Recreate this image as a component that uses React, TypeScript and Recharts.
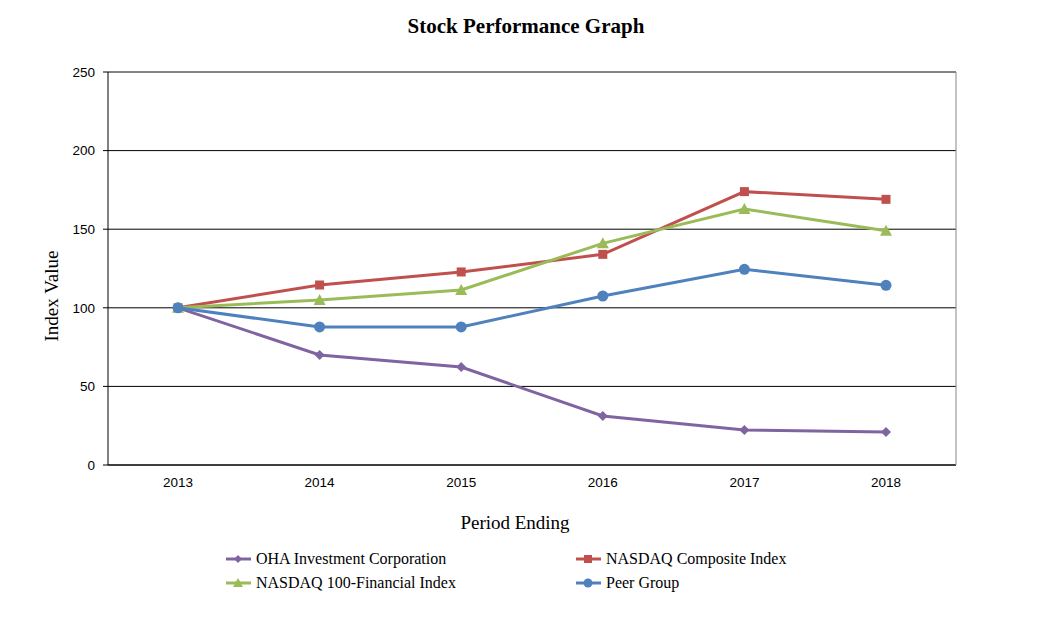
import React from 'react';
import {
  LineChart,
  Line,
  XAxis,
  YAxis,
  CartesianGrid,
  ReferenceLine,
  Label,
} from 'recharts';

const years = ['2013', '2014', '2015', '2016', '2017', '2018'];
const oha = [100, 70, 62.3, 31.2, 22.3, 21];
const nasdaqComposite = [100, 114.5, 122.8, 134, 173.9, 169];
const nasdaqFinancial = [100, 105, 111.3, 141, 162.8, 149];
const peerGroup = [100, 87.8, 87.8, 107.5, 124.5, 114.3];
const yTicks = [0, 50, 100, 150, 200, 250];

const data = years.map((year, i) => ({
  year,
  oha: oha[i],
  composite: nasdaqComposite[i],
  financial: nasdaqFinancial[i],
  peer: peerGroup[i],
}));

const PURPLE = '#8064A2';
const RED = '#C0504D';
const GREEN = '#9BBB59';
const BLUE = '#4F81BD';

type DotProps = { cx?: number; cy?: number; index?: number };

const Diamond = ({ cx = 0, cy = 0, index }: DotProps) => (
  <path key={`d-${index}`} d={`M${cx},${cy - 5}L${cx + 5},${cy}L${cx},${cy + 5}L${cx - 5},${cy}Z`} fill={PURPLE} />
);
const Square = ({ cx = 0, cy = 0, index }: DotProps) => (
  <rect key={`s-${index}`} x={cx - 4.5} y={cy - 4.5} width={9} height={9} fill={RED} />
);
const Triangle = ({ cx = 0, cy = 0, index }: DotProps) => (
  <path key={`t-${index}`} d={`M${cx},${cy - 6}L${cx + 6},${cy + 5}L${cx - 6},${cy + 5}Z`} fill={GREEN} />
);
const Circle = ({ cx = 0, cy = 0, index }: DotProps) => (
  <circle key={`c-${index}`} cx={cx} cy={cy} r={5.5} fill={BLUE} />
);

const legendItems = [
  { name: 'OHA Investment Corporation', color: PURPLE, shape: 'diamond', x: 226, y: 559 },
  { name: 'NASDAQ Composite Index', color: RED, shape: 'square', x: 576, y: 559 },
  { name: 'NASDAQ 100-Financial Index', color: GREEN, shape: 'triangle', x: 226, y: 583 },
  { name: 'Peer Group', color: BLUE, shape: 'circle', x: 576, y: 583 },
];

function LegendIcon({ color, shape }: { color: string; shape: string }) {
  let marker: React.ReactNode = null;
  if (shape === 'diamond') marker = <path d="M12,3L16,7L12,11L8,7Z" fill={color} />;
  if (shape === 'square') marker = <rect x={8} y={3} width={8} height={8} fill={color} />;
  if (shape === 'triangle') marker = <path d="M12,2L17,11L7,11Z" fill={color} />;
  if (shape === 'circle') marker = <circle cx={12} cy={7} r={4.5} fill={color} />;
  return (
    <svg width={25} height={14} style={{ display: 'block' }}>
      <line x1={0} y1={7} x2={25} y2={7} stroke={color} strokeWidth={3} />
      {marker}
    </svg>
  );
}

const serif = '"Liberation Serif", "Times New Roman", serif';
const sans = '"Liberation Sans", Arial, sans-serif';

export default function App() {
  return (
    <div style={{ position: 'absolute', left: 0, top: 0, width: 1040, height: 637, background: '#fff' }}>
      <div
        style={{
          position: 'absolute',
          left: 0,
          width: 1052,
          top: 14,
          textAlign: 'center',
          fontFamily: serif,
          fontWeight: 'bold',
          fontSize: 21,
        }}
      >
        Stock Performance Graph
      </div>
      <LineChart width={1040} height={637} data={data} margin={{ top: 72, right: 83, bottom: 142, left: 48 }}>
        <CartesianGrid vertical={false} stroke="#000" strokeWidth={1} />
        <ReferenceLine y={250} stroke="#888" strokeWidth={1} />
        <XAxis
          dataKey="year"
          padding={{ left: 70, right: 70 }}
          stroke="#000"
          tickLine={false}
          tickSize={5}
          tickMargin={7}
          tick={{ fill: '#000', fontFamily: sans, fontSize: 13.5 }}
          height={30}
        >
          <Label
            content={() => (
              <text x={515} y={529} textAnchor="middle" fontFamily={serif} fontSize={19} fill="#000">
                Period Ending
              </text>
            )}
          />
        </XAxis>
        <YAxis
          domain={[0, 250]}
          ticks={yTicks}
          stroke="#000"
          tickLine={{ stroke: '#000' }}
          tickSize={5}
          tickMargin={8}
          tick={{ fill: '#000', fontFamily: sans, fontSize: 13.5 }}
          width={60}
          interval={0}
        >
          <Label
            content={() => (
              <text
                x={58}
                y={296}
                transform="rotate(-90 58 296)"
                textAnchor="middle"
                fontFamily={serif}
                fontSize={19}
                fill="#000"
              >
                Index Value
              </text>
            )}
          />
        </YAxis>
        <YAxis
          yAxisId="right"
          orientation="right"
          width={1}
          tick={false}
          tickLine={false}
          axisLine={{ stroke: '#888', strokeWidth: 1 }}
          domain={[0, 250]}
        />
        <Line dataKey="oha" stroke={PURPLE} strokeWidth={3} dot={Diamond} activeDot={false} isAnimationActive={false} />
        <Line dataKey="composite" stroke={RED} strokeWidth={3} dot={Square} activeDot={false} isAnimationActive={false} />
        <Line dataKey="financial" stroke={GREEN} strokeWidth={3} dot={Triangle} activeDot={false} isAnimationActive={false} />
        <Line dataKey="peer" stroke={BLUE} strokeWidth={3} dot={Circle} activeDot={false} isAnimationActive={false} />
      </LineChart>
      {legendItems.map((item) => (
        <div
          key={item.name}
          style={{
            position: 'absolute',
            left: item.x,
            top: item.y - 9,
            display: 'flex',
            alignItems: 'center',
            gap: 5,
            fontFamily: serif,
            fontSize: 16,
            whiteSpace: 'nowrap',
            lineHeight: '18px',
          }}
        >
          <LegendIcon color={item.color} shape={item.shape} />
          <span>{item.name}</span>
        </div>
      ))}
    </div>
  );
}
